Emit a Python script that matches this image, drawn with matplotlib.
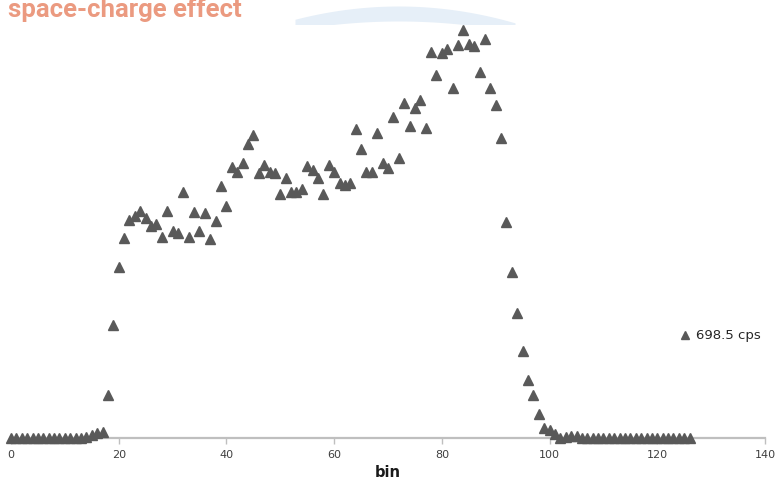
import numpy as np
import matplotlib.pyplot as plt
from matplotlib.lines import Line2D

# counts per bin (bins 0..126)
bins = np.arange(0, 127)
counts = np.array(
    [0] * 14 +
    [1, 3, 5, 6, 43, 113, 171, 200, 218, 222,
     227, 220, 212, 214, 201, 227, 207, 205, 246, 201,
     226, 207, 225, 199, 217, 252, 232, 271, 266, 275,
     294, 303, 265, 273, 266, 265, 244, 260, 246, 246,
     249, 272, 268, 260, 244, 273, 266, 255, 253, 255,
     309, 289, 266, 266, 305, 275, 270, 321, 280, 335,
     312, 330, 338, 310, 386, 363, 385, 389, 350, 393,
     408, 394, 392, 366, 399, 350, 333, 300, 216, 166,
     125, 87, 58, 43, 24, 10, 8, 4, 0, 1.5,
     2, 2] +
    [0] * 21, dtype=float)
rate_label = '698.5 cps'
xticks = [0, 20, 40, 60, 80, 100, 120, 140]

W, H = 776, 482
fig = plt.figure(figsize=(W / 100, H / 100), dpi=100)

# pale blue swoosh across the top of the slide
deco = fig.add_axes([0, (H - 25) / H, 1, 25 / H])
deco.set_xlim(0, W)
deco.set_ylim(25, 0)
deco.axis('off')
t = np.linspace(0, 1, 200)
xs = 295 + 220 * t
outer = 6 + 60 * (t - 0.47) ** 2
inner = 25 + 40 * (t - 0.47) ** 2 - 4
deco.fill_between(xs, outer, np.maximum(inner, outer), color='#e6eff8', lw=0)

# title, its tops cut by the upper edge
fig.text(8, H - 17.5, 'space-charge effect', transform=None, fontsize=18.5,
         fontweight='bold', color='#eb9a80', family='Roboto', va='baseline')

ax = fig.add_axes([11 / W, (H - 438) / H, 754 / W, 413 / H])
ax.set_xlim(0, 140)
ax.set_ylim(0, 413)
ax.plot(bins, counts, linestyle='none', marker='^', markersize=6.6,
        color='#595959', clip_on=False, zorder=3)

for s in ['top', 'right', 'left']:
    ax.spines[s].set_visible(False)
ax.spines['bottom'].set_color('#bfbfbf')
ax.spines['bottom'].set_linewidth(1.6)
ax.set_yticks([])
ax.set_xticks(xticks)
ax.tick_params(axis='x', colors='#bfbfbf', length=4, width=1, pad=5,
               labelsize=8, labelcolor='#404040')
ax.set_xlabel('bin', fontsize=10.5, fontweight='bold', color='#1a1a1a', labelpad=3)

handle = Line2D([], [], linestyle='none', marker='^', markersize=6.2, color='#595959')
fig.legend([handle], [rate_label], loc='center left', bbox_to_anchor=(668 / W, (H - 336) / H),
           frameon=False, fontsize=9.5, handlelength=0.8, handletextpad=0.4,
           labelcolor='#262626')

fig.savefig('out.png', dpi=100)
